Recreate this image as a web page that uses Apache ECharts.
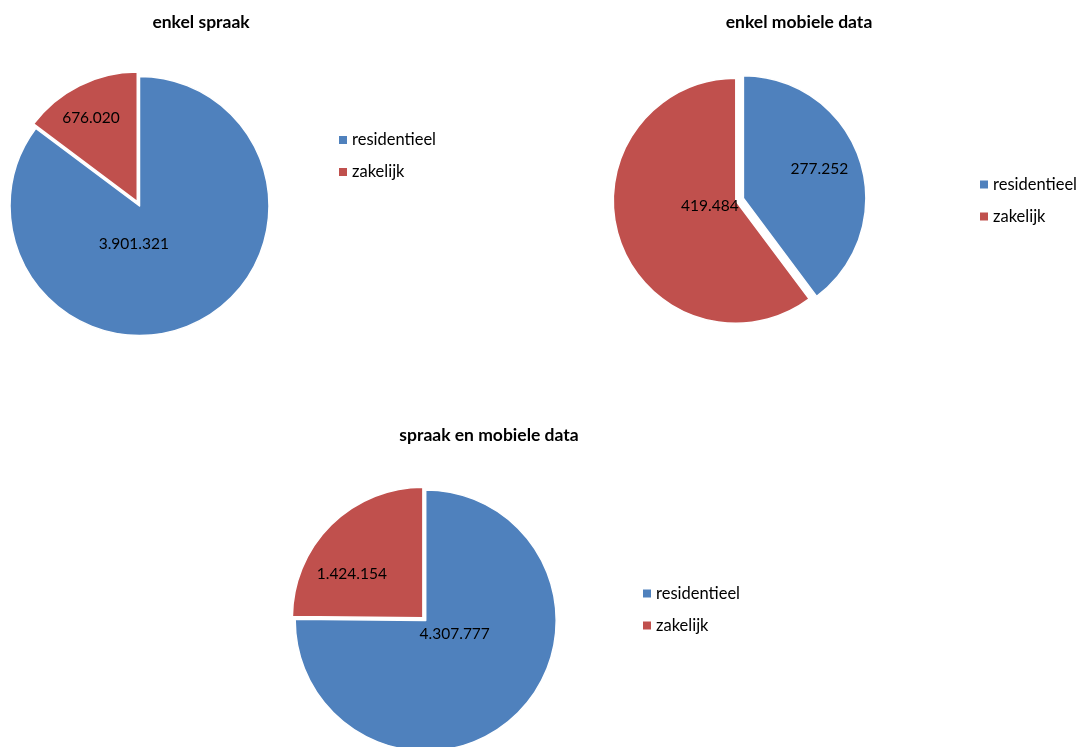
<!DOCTYPE html>
<html>
<head>
<meta charset="utf-8">
<style>
html,body{margin:0;padding:0;background:#fff;}
#chart{width:1084px;height:747px;}
</style>
<script src="https://cdn.jsdelivr.net/npm/echarts@6/dist/echarts.min.js"></script>
</head>
<body>
<div id="chart"></div>
<script>
// ---- data ----
const categories = ['residentieel', 'zakelijk'];
const titles = ['enkel spraak', 'enkel mobiele data', 'spraak en mobiele data'];
const enkelSpraak = [3901321, 676020];
const enkelMobieleData = [277252, 419484];
const spraakEnMobieleData = [4307777, 1424154];

// ---- styles ----
const colors = ['#4F81BD', '#C0504D'];
const FONT = 'Lato, "Open Sans", sans-serif';
const layouts = [
  {center: [139.5, 206], r: 129.5, title: [201, 13], legend: [337, 131], selected: [false, true], offset: 5,
   shift: [[-36, -23], [-16, -23]]},
  {center: [739.6, 199.5], r: 122.5, title: [799, 13], legend: [978, 175.5], selected: [true, true], offset: 4,
   shift: [[15, -9], [35, -15]]},
  {center: [425.7, 620.5], r: 130.5, title: [489, 426], legend: [641, 584.5], selected: [false, true], offset: 4,
   shift: [[-19, -35], [-23, 5]]}
];
const datasets = [enkelSpraak, enkelMobieleData, spraakEnMobieleData];

function fmt(v) {
  return String(v).replace(/\B(?=(\d{3})+(?!\d))/g, '.');
}

const chart = echarts.init(document.getElementById('chart'), null, {renderer: 'canvas'});

const option = {
  animation: false,
  color: colors,
  title: layouts.map((l, i) => ({
    text: titles[i],
    left: l.title[0], top: l.title[1],
    padding: 0,
    textAlign: 'center',
    textStyle: {fontFamily: FONT, fontWeight: 'bold', fontSize: 17.5, color: '#000'}
  })),
  legend: layouts.map((l, i) => ({
    data: categories,
    orient: 'vertical',
    left: l.legend[0], top: l.legend[1],
    padding: 0,
    itemWidth: 10, itemHeight: 10, itemGap: 14,
    icon: 'rect',
    selectedMode: false,
    textStyle: {fontFamily: FONT, fontSize: 16.5, color: '#000', lineHeight: 18, padding: [0, 0, 0, -1]}
  })),
  series: layouts.map((l, i) => ({
    type: 'pie',
    center: l.center,
    radius: l.r,
    startAngle: 90,
    clockwise: true,
    selectedMode: 'multiple',
    selectedOffset: l.offset,
    legendIndex: i,
    itemStyle: {borderColor: '#fff', borderWidth: 1.5},
    emphasis: {disabled: true},
    label: {
      show: true, position: 'inside',
      formatter: p => fmt(p.value),
      fontFamily: FONT, fontSize: 15.5, color: '#000'
    },
    labelLine: {show: false},
    labelLayout: p => ({dx: l.shift[p.dataIndex][0], dy: l.shift[p.dataIndex][1]}),
    data: categories.map((c, k) => ({name: c, value: datasets[i][k], selected: l.selected[k]}))
  }))
};
chart.setOption(option);
</script>
</body>
</html>
